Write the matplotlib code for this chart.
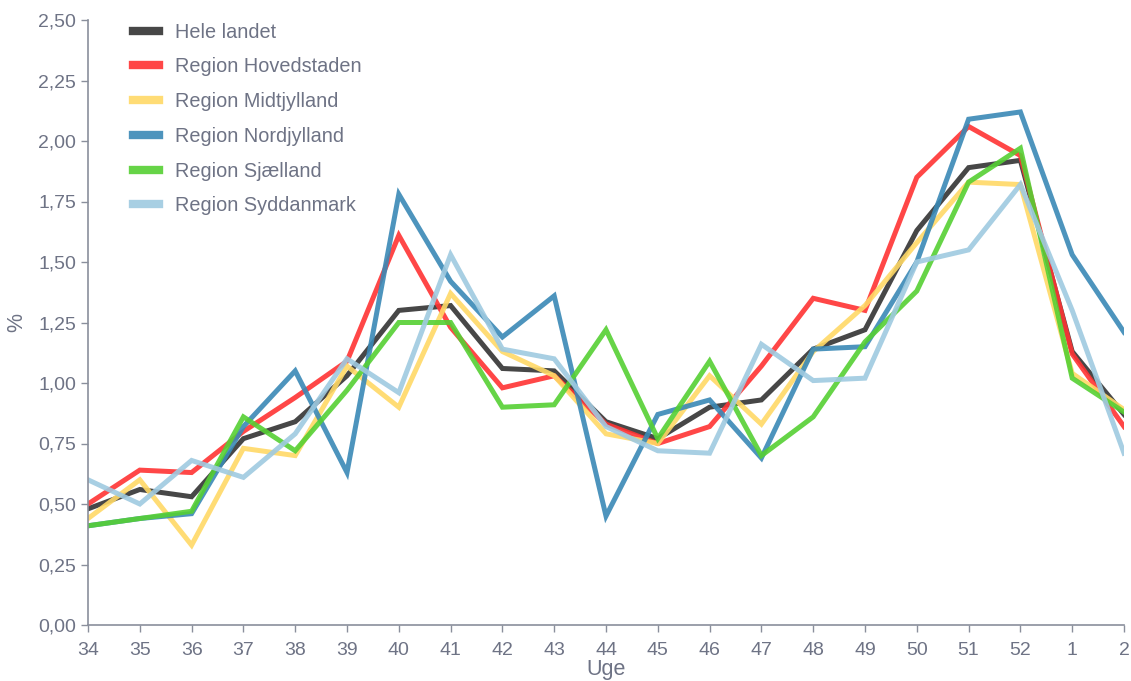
import numpy as np
import matplotlib
matplotlib.use("Agg")
from matplotlib import pyplot as plt
from matplotlib.ticker import FuncFormatter

plt.rcParams["font.family"] = ["Liberation Sans", "DejaVu Sans"]

# uger (x-akse)
weeks = ["34", "35", "36", "37", "38", "39", "40", "41", "42", "43", "44",
         "45", "46", "47", "48", "49", "50", "51", "52", "1", "2"]

hele_landet = [0.48, 0.56, 0.53, 0.77, 0.84, 1.03, 1.30, 1.32, 1.06, 1.05, 0.84,
               0.77, 0.90, 0.93, 1.14, 1.22, 1.63, 1.89, 1.92, 1.13, 0.87]
hovedstaden = [0.50, 0.64, 0.63, 0.80, 0.94, 1.09, 1.61, 1.23, 0.98, 1.03, 0.83,
               0.75, 0.82, 1.07, 1.35, 1.30, 1.85, 2.06, 1.94, 1.12, 0.82]
midtjylland = [0.44, 0.60, 0.33, 0.73, 0.70, 1.07, 0.90, 1.37, 1.13, 1.03, 0.79,
               0.75, 1.03, 0.83, 1.13, 1.32, 1.58, 1.83, 1.82, 1.04, 0.89]
nordjylland = [0.41, 0.44, 0.46, 0.82, 1.05, 0.63, 1.78, 1.42, 1.19, 1.36, 0.45,
               0.87, 0.93, 0.69, 1.14, 1.15, 1.50, 2.09, 2.12, 1.53, 1.21]
sjaelland = [0.41, 0.44, 0.47, 0.86, 0.72, 0.97, 1.25, 1.25, 0.90, 0.91, 1.22,
             0.77, 1.09, 0.70, 0.86, 1.17, 1.38, 1.83, 1.97, 1.02, 0.88]
syddanmark = [0.60, 0.50, 0.68, 0.61, 0.79, 1.10, 0.96, 1.53, 1.14, 1.10, 0.82,
              0.72, 0.71, 1.16, 1.01, 1.02, 1.50, 1.55, 1.82, 1.30, 0.71]

series = [
    ("Hele landet", hele_landet, "#333333"),
    ("Region Hovedstaden", hovedstaden, "#ff3333"),
    ("Region Midtjylland", midtjylland, "#ffd966"),
    ("Region Nordjylland", nordjylland, "#3a89b6"),
    ("Region Sjælland", sjaelland, "#55d033"),
    ("Region Syddanmark", syddanmark, "#9fcae0"),
]

txt_color = "#6e7385"
axis_color = "#8a8f9c"

fig = plt.figure(figsize=(11.31, 6.81), dpi=100)
ax = fig.add_axes([88 / 1131, 1 - 625 / 681, (1124 - 88) / 1131, (625 - 20) / 681])

x = np.arange(len(weeks))
for name, vals, col in series:
    ax.plot(x, vals, color=col, lw=3.6, alpha=0.9, label=name, solid_joinstyle="miter")

ax.set_xlim(0, len(weeks) - 1)
ax.set_ylim(0, 2.5)
ax.set_xticks(x)
ax.set_xticklabels(weeks)
ax.set_yticks(np.arange(0, 2.51, 0.25))
ax.yaxis.set_major_formatter(FuncFormatter(lambda v, p: f"{v:.2f}".replace(".", ",")))

for s in ["top", "right"]:
    ax.spines[s].set_visible(False)
for s in ["left", "bottom"]:
    ax.spines[s].set_color(axis_color)
    ax.spines[s].set_linewidth(1.2)

ax.tick_params(colors=axis_color, labelcolor=txt_color, labelsize=14, length=5, width=1)
ax.tick_params(axis="x", pad=7)
ax.set_xlabel("Uge", color=txt_color, fontsize=15.5, labelpad=0)
ax.set_ylabel("%", color=txt_color, fontsize=15.5, labelpad=8)

leg = ax.legend(loc="upper left", bbox_to_anchor=(0.026, 1.025), frameon=False,
                fontsize=14.3, handlelength=1.3, labelspacing=0.79, handletextpad=0.8)
for t in leg.get_texts():
    t.set_color(txt_color)
for h in leg.legend_handles:
    h.set_linewidth(6)

plt.savefig("out.png", dpi=100)
